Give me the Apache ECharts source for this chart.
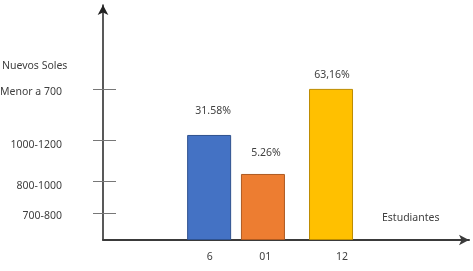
<!DOCTYPE html>
<html>
<head>
<meta charset="utf-8">
<script src="https://cdn.jsdelivr.net/npm/echarts@6/dist/echarts.min.js"></script>
<style>html,body{margin:0;padding:0;background:#fff}#c{width:473px;height:271px}</style>
</head>
<body>
<div id="c"></div>
<script>
// ---- data ----
const categories = ['6', '01', '12'];
const barPositions = [29.0, 43.7, 62.3];     // place along "Estudiantes" axis (0-100)
const categoryLabelPositions = [29.2, 44.3, 65.3];
const barLevels = [44.7, 28.1, 64.3];        // height on "Nuevos Soles" axis (0-100)
const barLabels = ['31.58%', '5.26%', '63,16%'];
const yTickLabels = ['700-800', '800-1000', '1000-1200', 'Menor a 700'];
const yTickLevels = [11.5, 25.1, 42.6, 64.3];
const yTickLabelLevels = [10.2, 23.0, 40.5, 63.0];

// ---- styles ----
const barColors = ['#4472C4', '#ED7D31', '#FFC000'];
const barBorders = ['#2F528F', '#AE5A21', '#BC8C00'];
const labelDistances = [18, 15, 8];
const labelOffsets = [[4, 0], [3, 0], [1, 0]];
const FONT = 'Noto Sans';
const TXT = '#404040';

const chart = echarts.init(document.getElementById('c'));
const labelMap = {};
categoryLabelPositions.forEach((p, i) => { labelMap[p] = categories[i]; });
const yLabelMap = {};
yTickLabelLevels.forEach((v, i) => { yLabelMap[v] = yTickLabels[i]; });

chart.setOption({
  animation: false,
  grid: { left: 103, right: 4, top: 5, bottom: 31, containLabel: false, outerBoundsMode: 'none' },
  xAxis: {
    type: 'value', min: 0, max: 100,
    splitLine: { show: false },
    axisLine: { show: true, lineStyle: { color: '#3a3a3a', width: 2 }, symbol: ['none', 'arrow'], symbolSize: [8, 10] },
    axisTick: { show: false },
    axisLabel: {
      customValues: categoryLabelPositions,
      formatter: v => labelMap[v] || '',
      margin: 12, color: TXT, fontFamily: FONT, fontSize: 10.5
    }
  },
  yAxis: [{
    type: 'value', min: 0, max: 100,
    splitLine: { show: false },
    axisLine: { show: true, lineStyle: { color: '#222', width: 1.5 }, symbol: ['none', 'arrow'], symbolSize: [8, 10] },
    axisTick: { show: true, customValues: yTickLevels, length: 10, lineStyle: { color: '#777', width: 1 } },
    axisLabel: {
      customValues: yTickLabelLevels,
      formatter: v => yLabelMap[v] || '',
      margin: 41, color: TXT, fontFamily: FONT, fontSize: 10.5
    }
  }, {
    type: 'value', min: 0, max: 100, position: 'left',
    splitLine: { show: false },
    axisLine: { show: false },
    axisTick: { show: true, inside: true, customValues: yTickLevels, length: 13, lineStyle: { color: '#777', width: 1 } },
    axisLabel: { show: false }
  }],
  graphic: [
    { type: 'text', left: 2, top: 61, style: { text: 'Nuevos Soles', fill: TXT, font: '10.5px "Noto Sans"' } },
    { type: 'text', left: 382, top: 213, style: { text: 'Estudiantes', fill: TXT, font: '10.5px "Noto Sans"' } }
  ],
  series: [{
    type: 'bar',
    barWidth: 44,
    data: barPositions.map((x, i) => ({
      value: [x, barLevels[i]],
      itemStyle: { color: barColors[i], borderColor: barBorders[i], borderWidth: 1 },
      label: {
        show: true, position: 'top', distance: labelDistances[i], offset: labelOffsets[i],
        formatter: barLabels[i], color: TXT, fontFamily: FONT, fontSize: 10.5
      }
    }))
  }]
});
</script>
</body>
</html>
